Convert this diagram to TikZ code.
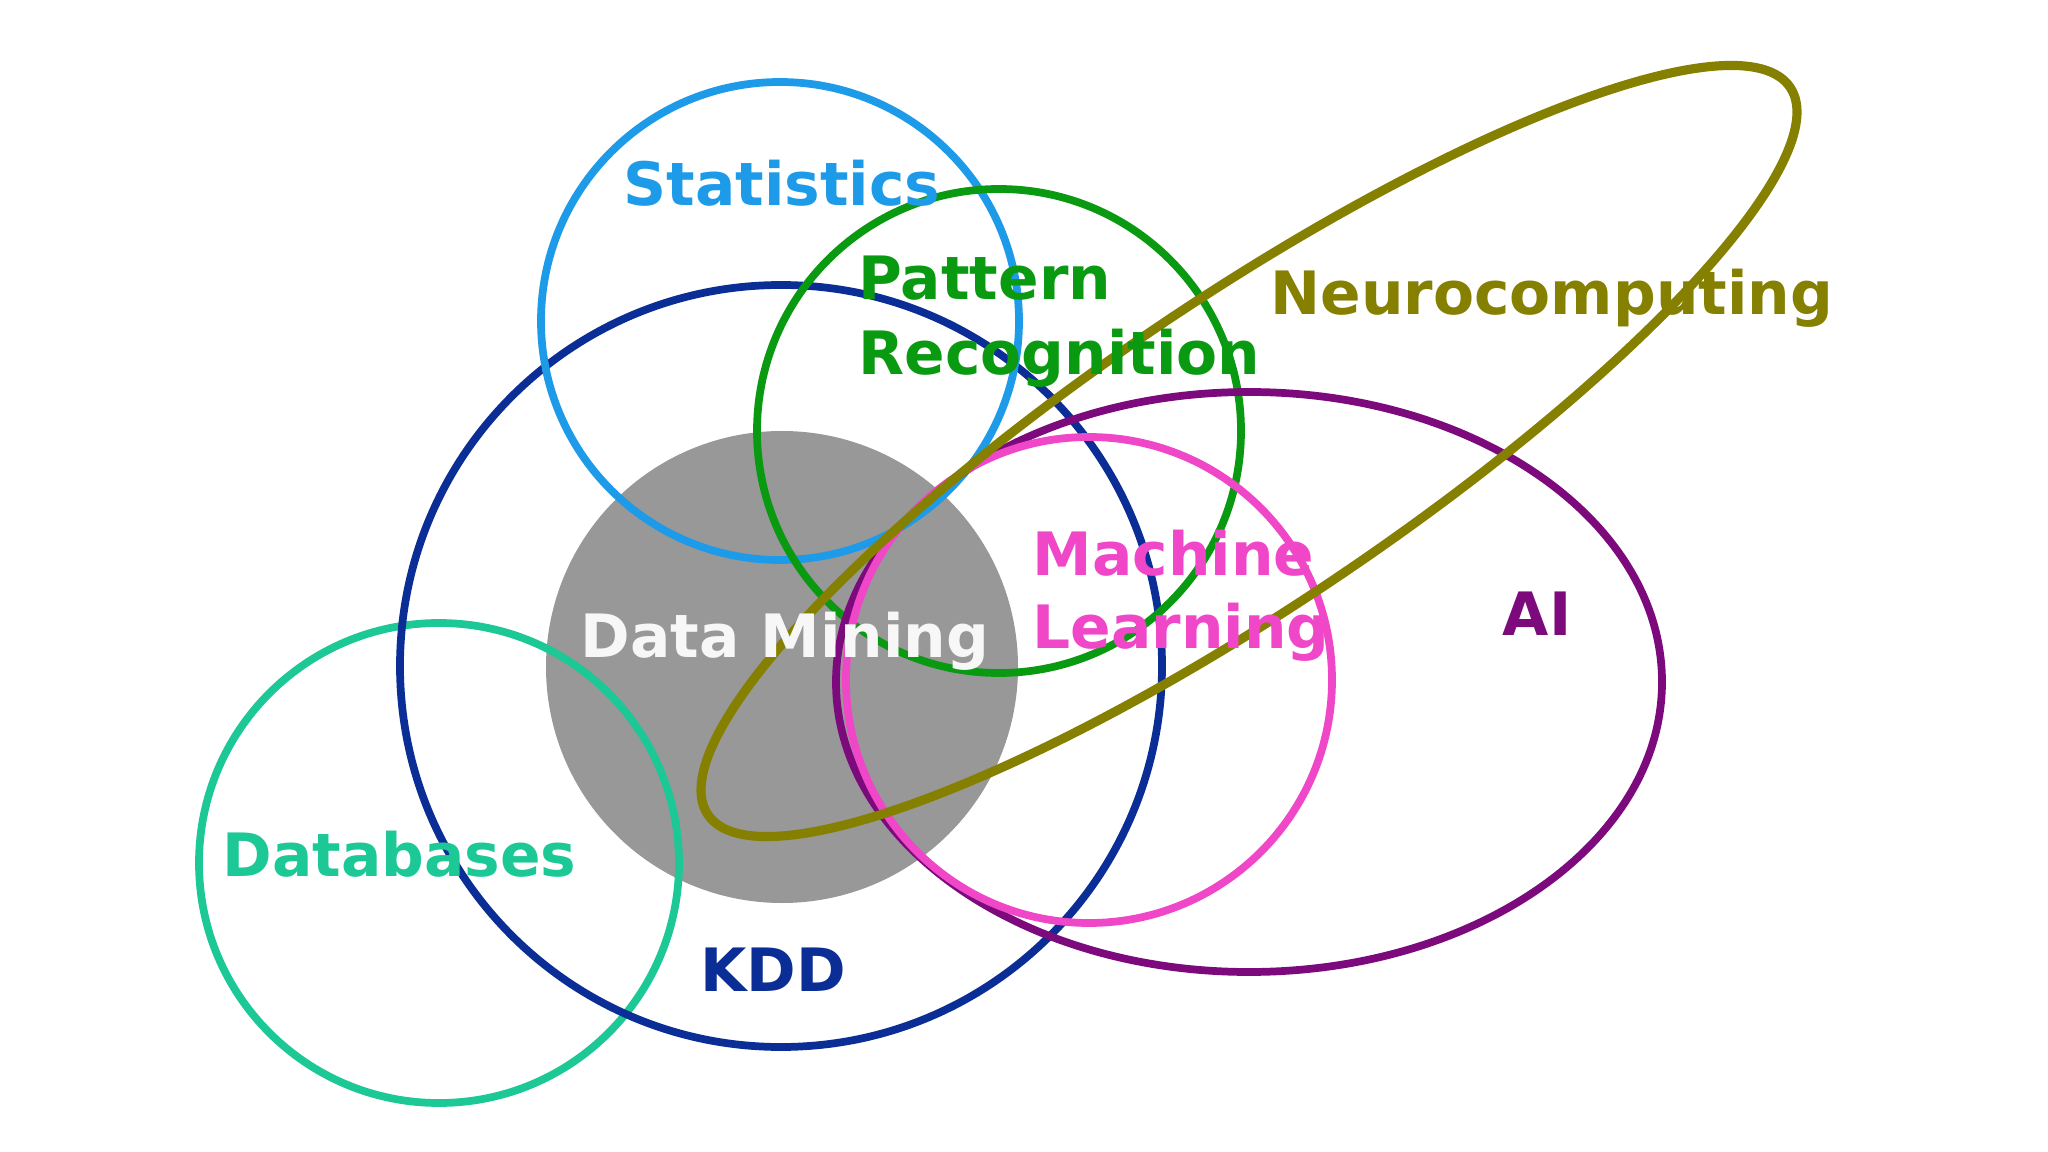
\documentclass[tikz,border=0pt]{standalone}
\usepackage{fontspec}
\setmainfont{DejaVu Sans}
\definecolor{cstat}{HTML}{1E9BE8}
\definecolor{cpat}{HTML}{0A9A12}
\definecolor{cneuro}{HTML}{858000}
\definecolor{cml}{HTML}{F046C8}
\definecolor{cai}{HTML}{7D0A7D}
\definecolor{cdm}{HTML}{989898}
\definecolor{cdb}{HTML}{1CC896}
\definecolor{ckdd}{HTML}{0A2D96}
\tikzset{
  ring/.style={line width=2.2pt},
  lbl/.style={font=\fontsize{17}{20}\selectfont\bfseries, inner sep=0pt, anchor=base},
  lblw/.style={font=\fontsize{17}{20}\selectfont\bfseries, inner sep=0pt, anchor=base west},
}
\begin{document}
\begin{tikzpicture}[x=0.01cm,y=-0.01cm]
\useasboundingbox[fill=white] (0,0) rectangle (2048,1152);
% shapes
\fill[cdm] (782,667) circle[radius=236];
\draw[ring, cdb] (439,863) circle[radius=240];
\draw[ring, ckdd] (781,666) circle[radius=381];
\draw[ring, cstat] (780,321) circle[radius=239];
\draw[ring, cpat] (999,431) circle[radius=242];
\draw[ring, cai] (1249,682) ellipse[x radius=413, y radius=290];
\draw[ring, cml] (1089,680) circle[radius=243];
\begin{scope}[shift={(1249,451)}, rotate=33.9]
\draw[ring, line width=2.6pt, cneuro] (0,0) ellipse[x radius=652, y radius=154];
\end{scope}
% labels
\node[lbl, text=cstat] (stat) at (782,206) {Statistics};
\node[lblw, text=cpat] (pat1) at (858,300) {Pattern};
\node[lblw, text=cpat] (pat2) at (858,375) {Recognition};
\node[lblw, text=cneuro] (neuro) at (1270,315) {Neurocomputing};
\node[lblw, text=cml] (ml1) at (1032,575) {Machine};
\node[lblw, text=cml] (ml2) at (1032,649) {Learning};
\node[lbl, text=cai] (ai) at (1537,636) {AI};
\node[lbl, text=white!97!black] (dm) at (785,657) {Data Mining};
\node[lblw, text=cdb] (db) at (222,876) {Databases};
\node[lbl, text=ckdd] (kdd) at (773,991) {KDD};
\end{tikzpicture}
\end{document}
